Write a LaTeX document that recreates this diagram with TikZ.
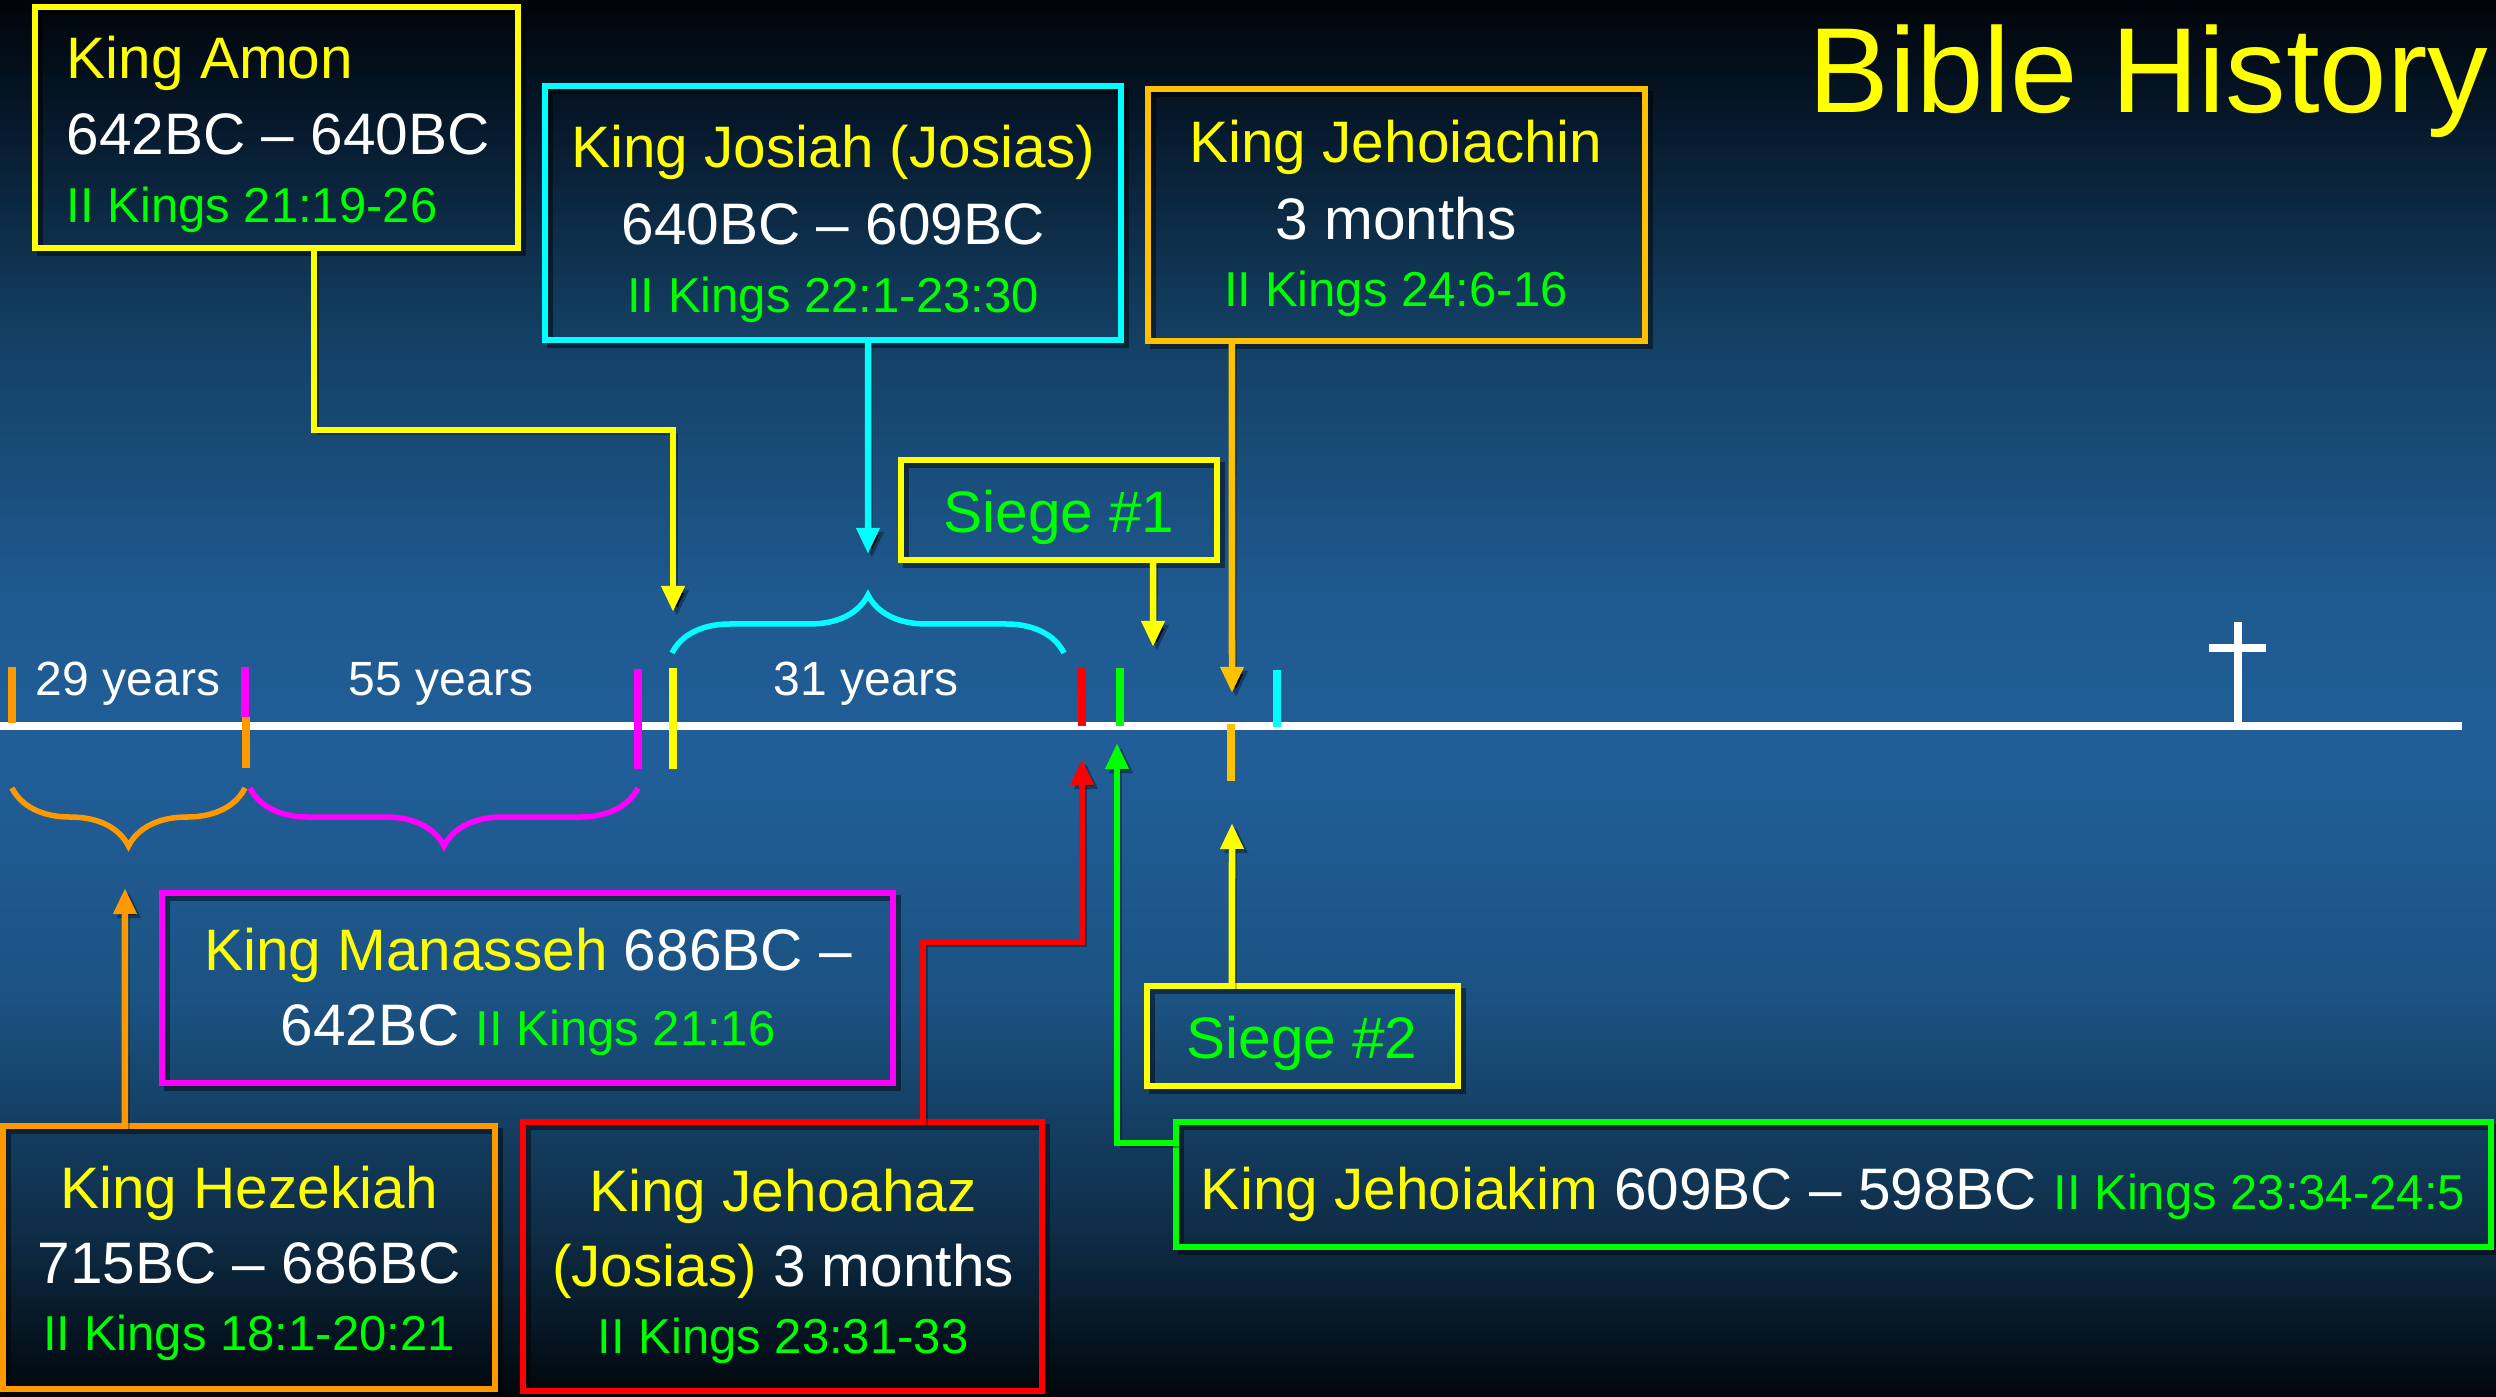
\documentclass[tikz,border=0pt]{standalone}
\usepackage{fontspec}
\setmainfont{Liberation Sans}
\usetikzlibrary{arrows.meta,decorations.pathreplacing,calc}
\definecolor{cyel}{HTML}{FFFF00}
\definecolor{ccyan}{HTML}{00FFFF}
\definecolor{cgold}{HTML}{FFC000}
\definecolor{corange}{HTML}{FF9900}
\definecolor{cmag}{HTML}{FF00FF}
\definecolor{cred}{HTML}{FF0000}
\definecolor{cgreen}{HTML}{00FF00}
\definecolor{bga}{HTML}{010409}
\definecolor{bgb}{HTML}{06182A}
\definecolor{bgc}{HTML}{133F63}
\definecolor{bgd}{HTML}{1F5A90}
\definecolor{bge}{HTML}{215E98}
\definecolor{bgf}{HTML}{1B5282}
\definecolor{bgg}{HTML}{0E2D47}
\definecolor{bgh}{HTML}{01060B}
\newcommand{\fmain}{\fontsize{0.585cm}{0.7cm}\selectfont}
\newcommand{\fref}{\fontsize{0.49cm}{0.6cm}\selectfont}
\newcommand{\fyrs}{\fontsize{0.48cm}{0.6cm}\selectfont}
\newcommand{\ftitle}{\fontsize{1.21cm}{1.4cm}\selectfont}
\tikzset{
  kbox/.style={draw, line width=0.06cm, inner sep=0pt, outer sep=0pt,
    preaction={draw=black, draw opacity=0.45, transform canvas={xshift=0.05cm,yshift=-0.05cm}}},
  txt/.style={inner sep=0pt, anchor=base, font=\fmain},
  conn/.style={line width=0.065cm, -{Triangle[length=0.26cm,width=0.22cm]},
    preaction={draw=black, draw opacity=0.35, transform canvas={xshift=0.04cm,yshift=-0.04cm}}},
  tickln/.style={line width=0.08cm},
  brc/.style={decorate, decoration={brace, amplitude=0.58cm}, line width=0.055cm}
}
\begin{document}
\begin{tikzpicture}[x=0.01cm,y=-0.01cm]
\useasboundingbox (0,0) rectangle (2496,1397);
% background
\shade[top color=bga,bottom color=bgb] (0,0) rectangle (2496,121);
\shade[top color=bgb,bottom color=bgc] (0,120) rectangle (2496,331);
\shade[top color=bgc,bottom color=bgd] (0,330) rectangle (2496,601);
\shade[top color=bgd,bottom color=bge] (0,600) rectangle (2496,761);
\shade[top color=bge,bottom color=bgf] (0,760) rectangle (2496,1001);
\shade[top color=bgf,bottom color=bgg] (0,1000) rectangle (2496,1231);
\shade[top color=bgg,bottom color=bgh] (0,1230) rectangle (2496,1397);

% title
\node[inner sep=0pt, anchor=base west, font=\ftitle, text=cyel] (title) at (1808,113) {Bible History};

% timeline
\coordinate (tl0) at (0,726);
\coordinate (tl1) at (2462,726);
\draw[white, line width=0.08cm] (tl0) -- (tl1);

% ticks
\draw[tickln, corange] (12,667) -- (12,723);
\draw[tickln, cmag] (245,667) -- (245,717);
\draw[tickln, corange] (246,717) -- (246,768);
\draw[tickln, cmag] (638,669) -- (638,769);
\draw[tickln, cyel] (673,668) -- (673,769);
\draw[tickln, cred] (1082,668) -- (1082,726);
\draw[tickln, cgreen] (1120,668) -- (1120,726);
\draw[tickln, cgold] (1231,724) -- (1231,781);
\draw[tickln, ccyan] (1277,670) -- (1277,727);
% cross
\draw[tickln, white] (2238,622) -- (2238,723);
\draw[tickln, white] (2209,648) -- (2266,648);

% braces
\coordinate (bo1) at (245,788); \coordinate (bo0) at (12,788);
\coordinate (bm1) at (638,788); \coordinate (bm0) at (250,788);
\coordinate (bc0) at (672,653); \coordinate (bc1) at (1064,653);
\draw[brc, corange] (bo1) -- (bo0);
\draw[brc, cmag] (bm1) -- (bm0);
\draw[brc, ccyan] (bc0) -- (bc1);

% years labels
\node[txt, font=\fyrs, text=white] (y29) at (128,695) {29 years};
\node[txt, font=\fyrs, text=white] (y55) at (441,695) {55 years};
\node[txt, font=\fyrs, text=white] (y31) at (866,695) {31 years};

% boxes
\node[kbox, cyel, minimum width=4.83cm, minimum height=2.41cm] (amon) at (276.5,127.5) {};
\node[kbox, ccyan, minimum width=5.76cm, minimum height=2.54cm] (josiah) at (833,213) {};
\node[kbox, cgold, minimum width=4.97cm, minimum height=2.52cm] (jehoiachin) at (1396.5,215) {};
\node[kbox, cyel, minimum width=3.16cm, minimum height=1.00cm] (siege1) at (1059,510) {};
\node[kbox, cyel, minimum width=3.11cm, minimum height=1.00cm] (siege2) at (1302.5,1036) {};
\node[kbox, cmag, minimum width=7.31cm, minimum height=1.90cm] (manasseh) at (527.5,988) {};
\node[kbox, corange, minimum width=4.92cm, minimum height=2.63cm] (hezekiah) at (249,1257.5) {};
\node[kbox, cred, minimum width=5.19cm, minimum height=2.69cm] (jehoahaz) at (782.5,1256.5) {};
\node[kbox, cgreen, minimum width=13.15cm, minimum height=1.25cm] (jehoiakim) at (1833.5,1184.5) {};

% box texts
\node[txt, anchor=base west, text=cyel] (amon1) at (66,79) {King Amon};
\node[txt, anchor=base west, text=white] (amon2) at (66,155) {642BC – 640BC};
\node[txt, anchor=base west, font=\fref, text=cgreen] (amon3) at (66,222) {II Kings 21:19-26};

\node[txt, text=cyel] (jos1) at (833,168) {King Josiah (Josias)};
\node[txt, text=white] (jos2) at (833,245) {640BC – 609BC};
\node[txt, font=\fref, text=cgreen] (jos3) at (833,312) {II Kings 22:1-23:30};

\node[txt, text=cyel] (jch1) at (1396,163) {King Jehoiachin};
\node[txt, text=white] (jch2) at (1396,240) {3 months};
\node[txt, font=\fref, text=cgreen] (jch3) at (1396,307) {II Kings 24:6-16};

\node[txt, text=cgreen] (s1t) at (1059,532) {Siege \#1};
\node[txt, text=cgreen] (s2t) at (1302,1058) {Siege \#2};

\node[txt, text=cyel] (man1) at (528,970) {King Manasseh \textcolor{white}{686BC –}};
\node[txt, text=white] (man2) at (528,1045) {642BC {\fref\textcolor{cgreen}{II Kings 21:16}}};

\node[txt, text=cyel] (hez1) at (249,1208) {King Hezekiah};
\node[txt, text=white] (hez2) at (249,1283) {715BC – 686BC};
\node[txt, font=\fref, text=cgreen] (hez3) at (249,1350) {II Kings 18:1-20:21};

\node[txt, text=cyel] (jhz1) at (783,1211) {King Jehoahaz};
\node[txt, text=cyel] (jhz2) at (783,1286) {(Josias) \textcolor{white}{3 months}};
\node[txt, font=\fref, text=cgreen] (jhz3) at (783,1353) {II Kings 23:31-33};

\node[txt, text=cyel] (jkm) at (1833,1209) {King Jehoiakim \textcolor{white}{609BC – 598BC} {\fref\textcolor{cgreen}{II Kings 23:34-24:5}}};

% arrow targets
\coordinate (tyel) at (673,612);
\coordinate (tcyan) at (868,554);
\coordinate (ts1) at (1153,647);
\coordinate (tgold) at (1232,693);
\coordinate (ts2) at (1232,823);
\coordinate (tgreen) at (1117,743);
\coordinate (tred) at (1082,759);
\coordinate (torange) at (125,888);

% connectors
\draw[conn, cyel] ([xshift=0.375cm]amon.south) -- ++(0,182) -| (tyel);
\draw[conn, ccyan] ([xshift=0.35cm]josiah.south) -- (tcyan);
\draw[conn, cyel] ([xshift=0.94cm]siege1.south) -- (ts1);
\draw[conn, cgold] ([xshift=-1.645cm]jehoiachin.south) -- (tgold);
\draw[conn, cyel] ([xshift=-0.705cm]siege2.north) -- (ts2);
\draw[conn, cgreen] ([yshift=0.415cm]jehoiakim.west) -| (tgreen);
\draw[conn, cred] ([xshift=1.405cm]jehoahaz.north) -- ++(0,-180) -| (tred);
\draw[conn, corange] ([xshift=-1.24cm]hezekiah.north) -- (torange);
\end{tikzpicture}
\end{document}
